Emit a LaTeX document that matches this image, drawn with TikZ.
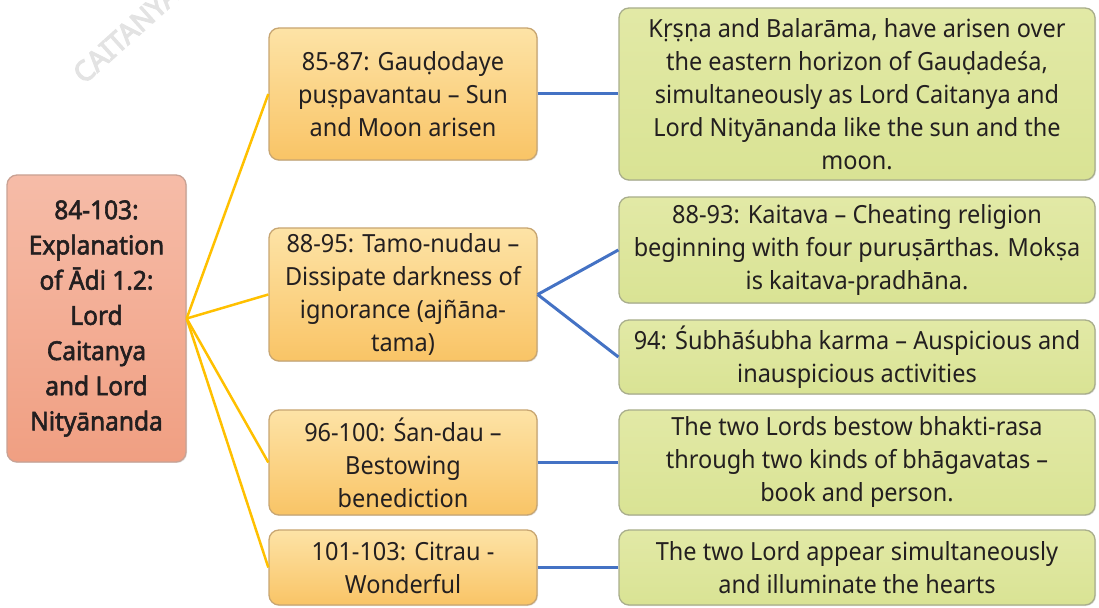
\documentclass[tikz,border=0pt]{standalone}
\usepackage{fontspec}
\setmainfont{Noto Sans}[FakeStretch=0.94, AutoFakeBold=2.2]
\newfontfamily\markfont{Noto Sans}[FakeBold=4]
\usetikzlibrary{shadows}

\definecolor{txt}{HTML}{231F20}
\definecolor{rootT}{HTML}{F6BCA8}
\definecolor{rootB}{HTML}{F09F82}
\definecolor{rootD}{HTML}{C9A294}
\definecolor{midT}{HTML}{FDE3A6}
\definecolor{midB}{HTML}{F9C466}
\definecolor{midD}{HTML}{C8A672}
\definecolor{leafT}{HTML}{E2E9A6}
\definecolor{leafB}{HTML}{D9E394}
\definecolor{leafD}{HTML}{A9AE8C}
\definecolor{goldline}{HTML}{FFC000}
\definecolor{blueline}{HTML}{4472C4}

\tikzset{
  box/.style={rounded corners=10pt, line width=1.3pt, align=center, text=txt,
    inner sep=0pt, font=\fontsize{25}{33}\selectfont,
    drop shadow={shadow xshift=1pt, shadow yshift=-1pt, opacity=0.25}},
  rootbox/.style={box, top color=rootT, bottom color=rootB, draw=rootD,
    font=\fontsize{26}{35.2}\selectfont\bfseries},
  midbox/.style={box, top color=midT, bottom color=midB, draw=midD,
    minimum width=268pt},
  leafbox/.style={box, top color=leafT, bottom color=leafB, draw=leafD,
    minimum width=476pt},
  goldlink/.style={draw=goldline, line width=2.5pt},
  bluelink/.style={draw=blueline, line width=3pt},
}

\begin{document}
\begin{tikzpicture}[x=1pt,y=1pt]
\useasboundingbox (0,0) rectangle (1099,607);
\clip (0,0) rectangle (1099,607);

% faint watermark in the upper left corner
\node[anchor=base west, rotate=42, text=black!11, inner sep=0pt,
      font=\fontsize{28}{28}\markfont] (wm) at (84,522) {CAITANYA};

% root topic
\node[rootbox, minimum width=179pt, minimum height=287pt] (root) at (96.5,288.5)
  {84-103:\\Explanation\\of Ādi 1.2:\\Lord\\Caitanya\\and Lord\\Nityānanda};

% verse groups
\node[midbox, minimum height=132pt] (m1) at (403,513)
  {85-87: Gauḍodaye\\puṣpavantau – Sun\\and Moon arisen};
\node[midbox, minimum height=133pt] (m2) at (403,312.5)
  {88-95: Tamo-nudau –\\Dissipate darkness of\\ignorance (ajñāna-\\tama)};
\node[midbox, minimum height=105pt] (m3) at (403,144.5)
  {96-100: Śan-dau –\\Bestowing\\benediction};
\node[midbox, minimum height=75pt] (m4) at (403,39.5)
  {101-103: Citrau -\\Wonderful};

% explanations
\node[leafbox, minimum height=172pt] (r1) at (857,513)
  {Kṛṣṇa and Balarāma, have arisen over\\the eastern horizon of Gauḍadeśa,\\simultaneously as Lord Caitanya and\\Lord Nityānanda like the sun and the\\moon.};
\node[leafbox, minimum height=106pt] (r2) at (857,357)
  {88-93: Kaitava – Cheating religion\\beginning with four puruṣārthas. Mokṣa\\is kaitava-pradhāna.};
\node[leafbox, minimum height=74pt] (r3) at (857,250)
  {94: Śubhāśubha karma – Auspicious and\\inauspicious activities};
\node[leafbox, minimum height=105pt] (r4) at (857,144.5)
  {The two Lords bestow bhakti-rasa\\through two kinds of bhāgavatas –\\book and person.};
\node[leafbox, minimum height=75pt] (r5) at (857,39.5)
  {The two Lord appear simultaneously\\and illuminate the hearts};

% connectors
\draw[goldlink] (root.east) -- (m1.west);
\draw[goldlink] (root.east) -- (m2.west);
\draw[goldlink] (root.east) -- (m3.west);
\draw[goldlink] (root.east) -- (m4.west);
\draw[bluelink] (m1.east) -- (r1.west);
\draw[bluelink] (m2.east) -- (r2.west);
\draw[bluelink] (m2.east) -- (r3.west);
\draw[bluelink] (m3.east) -- (r4.west);
\draw[bluelink] (m4.east) -- (r5.west);
\end{tikzpicture}
\end{document}
